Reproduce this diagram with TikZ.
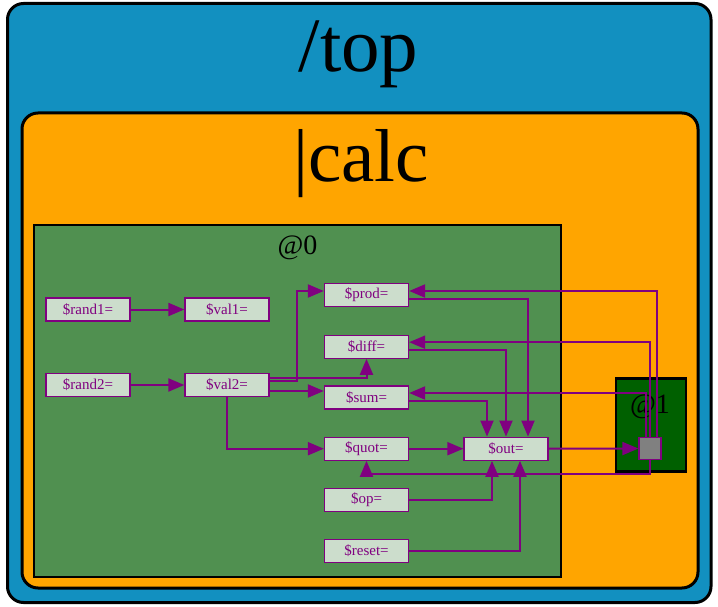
\documentclass[tikz,border=0pt]{standalone}
\usepackage{fontspec}
\setmainfont{Liberation Serif}
\usetikzlibrary{arrows.meta}
\definecolor{topblue}{RGB}{18,144,192}
\definecolor{calcorange}{RGB}{255,165,0}
\definecolor{grpgreen}{RGB}{80,144,80}
\definecolor{darkgrp}{RGB}{0,96,0}
\definecolor{nodefill}{RGB}{204,221,204}
\definecolor{edgepurple}{RGB}{128,0,128}
\definecolor{sqgrey}{RGB}{128,128,128}
\tikzset{
  sig/.style={rectangle, draw=edgepurple, fill=nodefill, line width=1.3pt,
    minimum width=84pt, minimum height=23pt, inner sep=0pt,
    text=edgepurple, font=\fontsize{15}{15}\selectfont},
  port/.style={rectangle, draw=edgepurple, fill=sqgrey, line width=1.3pt,
    minimum width=22pt, minimum height=22pt, inner sep=0pt},
  wire/.style={draw=edgepurple, line width=2pt, -{Triangle[length=16pt,width=13pt]}},
  clusterlabel/.style={anchor=base, inner sep=0pt}
}
\begin{document}
\begin{tikzpicture}[x=1pt,y=-1pt]
\useasboundingbox (0,0) rectangle (718,607);
% clusters
\draw[fill=topblue, line width=3pt, rounded corners=16pt] (7.5,3.5) rectangle (711,602.5);
\node[clusterlabel, font=\fontsize{77}{77}\selectfont] (toplbl) at (358.5,71.7) {/top};
\draw[fill=calcorange, line width=3pt, rounded corners=16pt] (22,113) rectangle (698,588);
\node[clusterlabel, font=\fontsize{75}{75}\selectfont] (calclbl) at (361,181.7) {|calc};
\draw[fill=grpgreen, line width=2pt] (33.5,225) rectangle (560.5,577);
\node[clusterlabel, font=\fontsize{28}{28}\selectfont] (g0lbl) at (297.5,254.3) {@0};
\draw[fill=darkgrp, line width=2.5pt] (616,378.5) rectangle (686,471.5);
\node[clusterlabel, font=\fontsize{28}{28}\selectfont] (g1lbl) at (650,413) {@1};
% nodes
\node[sig] (rand1) at (88,309.5) {\$rand1=};
\node[sig] (val1) at (227,309.5) {\$val1=};
\node[sig] (rand2) at (88,385) {\$rand2=};
\node[sig] (val2) at (227,385) {\$val2=};
\node[sig] (prod) at (366.5,295) {\$prod=};
\node[sig] (diff) at (366.5,346.7) {\$diff=};
\node[sig] (sum) at (366.5,397.5) {\$sum=};
\node[sig] (quot) at (366.5,448.7) {\$quot=};
\node[sig] (out) at (506,448.7) {\$out=};
\node[sig] (op) at (366.5,500) {\$op=};
\node[sig] (reset) at (366.5,551) {\$reset=};
\node[port] (sq) at (650,448.5) {};
% helper coordinates
\coordinate (prodin) at ([yshift=4pt]prod.west);
\coordinate (sumin) at ([yshift=6.5pt]sum.west);
\coordinate (prodback) at ([yshift=4pt]prod.east);
\coordinate (diffback) at ([yshift=4.5pt]diff.east);
\coordinate (sumback) at ([yshift=4.5pt]sum.east);
% edges
\draw[wire] (rand1.east) -- (val1.west);
\draw[wire] (rand2.east) -- (val2.west);
\draw[wire] ([yshift=4pt]val2.east) -- (297,381) |- (prodin);
\draw[wire] ([yshift=7.5pt]val2.east) -| (diff.south);
\draw[wire] (val2.east |- sumin) -- (sumin);
\draw[wire] (val2.south) |- (quot.west);
\draw[wire] (quot.east) -- (out.west);
\draw[wire] ([yshift=-3.5pt]sum.east) -| ([xshift=-19pt]out.north);
\draw[wire] ([yshift=-3.3pt]diff.east) -| (out.north);
\draw[wire] ([yshift=-4pt]prod.east) -| ([xshift=22pt]out.north);
\draw[wire] (op.east) -| ([xshift=-14pt]out.south);
\draw[wire] (reset.east) -| ([xshift=14pt]out.south);
\draw[wire] (out.east) -- (sq.west);
\draw[wire] ([xshift=6.5pt]sq.north) |- (prodback);
\draw[wire] (sq.north) |- (diffback);
\draw[wire] ([xshift=-4.5pt]sq.north) |- (sumback);
\draw[wire] (sq.south) -- ([yshift=-14pt]sq.south) -| (quot.south);
\end{tikzpicture}
\end{document}
